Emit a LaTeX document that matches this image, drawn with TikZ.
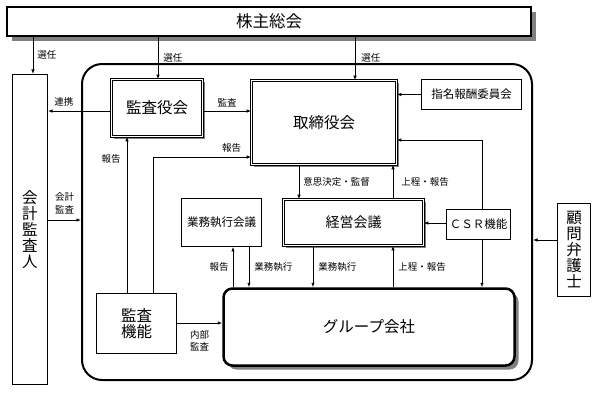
\documentclass[tikz,border=0pt]{standalone}
\usepackage{fontspec}
\setmainfont{Noto Sans CJK JP}
\usetikzlibrary{arrows.meta,shadows}
\begin{document}
\begin{tikzpicture}[x=1pt,y=-1pt,box/.style={draw,fill=white,line width=0.8pt,align=center,inner sep=0pt},
dbox/.style={box,double,double distance=1.4pt,line width=0.7pt,drop shadow={shadow xshift=2pt,shadow yshift=-2pt,fill=gray,opacity=1}},
arr/.style={-{Latex[length=4.5pt,width=3.5pt]},line width=0.8pt},lbl/.style={font=\fontsize{9.5}{12.5}\selectfont,inner sep=1pt},
big/.style={font=\fontsize{15.5}{16}\selectfont},mid/.style={font=\fontsize{11.5}{13}\selectfont}]
\useasboundingbox (0,0) rectangle (598,392);
\node[draw,line width=2pt,rounded corners=20pt,minimum width=450pt,minimum height=316pt] (frame) at (307,222){};
\node[box,line width=1.2pt,minimum width=524pt,minimum height=29pt,font=\fontsize{16.5}{18}\selectfont,drop shadow={shadow xshift=5pt,shadow yshift=-5pt,fill=gray,opacity=1}] (sokai) at (269,21.5){株主総会};
\node[box,line width=1.2pt,big,minimum width=35pt,minimum height=310pt] (kaikei) at (30,229.5){会\\計\\監\\査\\人};
\node[dbox,big,minimum width=91pt,minimum height=57pt] (kansa) at (157,108){監査役会};
\node[dbox,big,minimum width=145pt,minimum height=84pt] (torishimari) at (324,122.5){取締役会};
\node[box,mid,minimum width=100pt,minimum height=30pt] (shimei) at (471.5,94.5){指名報酬委員会};
\node[box,mid,minimum width=80pt,minimum height=48pt] (gyomu) at (221.5,222.5){業務執行会議};
\node[dbox,font=\fontsize{14}{16}\selectfont,minimum width=140pt,minimum height=46pt] (keiei) at (353.5,222.5){経営会議};
\node[box,mid,minimum width=64pt,minimum height=30pt] (csr) at (478.5,224.5){ＣＳＲ機能};
\node[box,line width=1.2pt,big,minimum width=33pt,minimum height=93pt] (komon) at (574,250){顧\\問\\弁\\護\\士};
\node[box,big,minimum width=80pt,minimum height=60pt] (kansakino) at (136.5,323.5){監査\\機能};
\node[box,big,line width=2.5pt,rounded corners=9pt,minimum width=291pt,minimum height=77pt,drop shadow={shadow xshift=4pt,shadow yshift=-4pt,fill=gray,opacity=1}] (group) at (369,327){グループ会社};
\draw[arr] (sokai.south -| 33,0) -- (kaikei.north -| 33,0) node[lbl,right=3pt,midway]{選任};
\draw[arr] (sokai.south -| 158,0) -- (kansa.north -| 158,0) node[lbl,right=4pt,midway]{選任};
\draw[arr] (sokai.south -| 355,0) -- (torishimari.north -| 355,0) node[lbl,right=5pt,midway]{選任};
\draw[arr] (kansa.west |- 0,111) -- (kaikei.east |- 0,111) node[lbl,above=3pt,pos=0.75]{連携};
\draw[arr] (kansa.east |- 0,111) -- (torishimari.west |- 0,111) node[lbl,above=3pt,midway]{監査};
\draw[arr] (kansakino.north -| 127,0) -- (kansa.south -| 127,0) node[lbl,left=5pt,pos=0.86]{報告};
\draw[arr] (kansakino.north -| 153,0) |- (torishimari.west |- 0,157) node[lbl,above=3pt,pos=0.9]{報告};
\draw[arr] (shimei.west) -- (torishimari.east |- shimei.west);
\draw[arr] (torishimari.south -| 299,0) -- (keiei.north -| 299,0) node[lbl,right=3pt,midway]{意思決定・監督};
\draw[arr] (keiei.north -| 393,0) -- (torishimari.south -| 393,0) node[lbl,right=7pt,midway]{上程・報告};
\draw[arr] (csr.west |- 0,223) -- (keiei.east |- 0,223);
\draw[arr] (csr.north -| 482,0) |- (torishimari.east |- 0,140);
\draw[arr] (csr.south -| 482,0) -- (group.north -| 482,0);
\draw[arr] (komon.west |- 0,240) -- (frame.east |- 0,240);
\draw[arr] (kaikei.east |- 0,220) -- (frame.west |- 0,220) node[lbl,above=5pt,midway,align=center]{会計\\監査};
\draw[arr] (group.north -| 233,0) -- (gyomu.south -| 233,0) node[lbl,left=3pt,midway]{報告};
\draw[arr] (gyomu.south -| 249,0) -- (group.north -| 249,0) node[lbl,right=4pt,midway]{業務執行};
\draw[arr] (keiei.south -| 313,0) -- (group.north -| 313,0) node[lbl,right=4pt,midway]{業務執行};
\draw[arr] (group.north -| 393,0) -- (keiei.south -| 393,0) node[lbl,right=4pt,midway]{上程・報告};
\draw[arr] (kansakino.east |- 0,323) -- (group.west |- 0,323) node[lbl,below=6pt,midway,align=center]{内部\\監査};
\end{tikzpicture}
\end{document}
